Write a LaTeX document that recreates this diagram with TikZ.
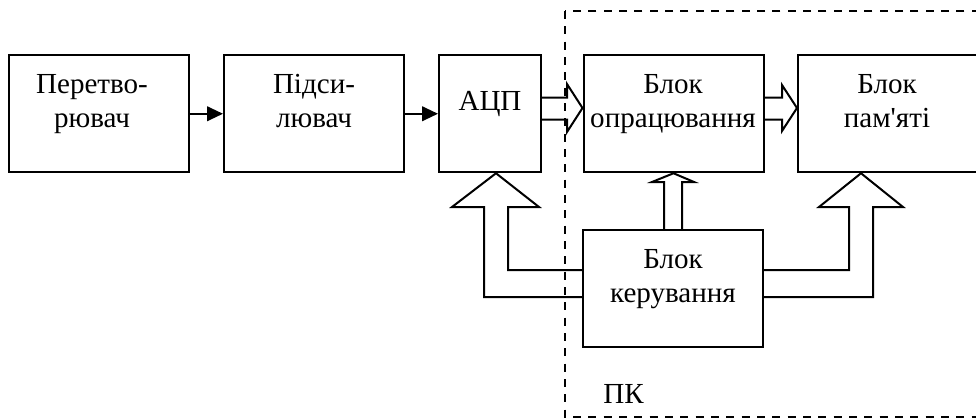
\documentclass[tikz,border=0pt]{standalone}
\usepackage{fontspec}
\setmainfont{Liberation Serif}[Ligatures=TeXOff]
\usetikzlibrary{arrows.meta}
\begin{document}
\begin{tikzpicture}[x=0.75pt,y=-0.75pt,
  blk/.style={draw, line width=1.5pt, minimum width=135pt, minimum height=87.75pt, inner sep=0pt},
  lbl/.style={align=center, font=\fontsize{21.8}{25.5}\selectfont, inner sep=0pt, anchor=base},
  hollow/.style={draw, line width=1.5pt, line join=miter},
  sarrow/.style={-{Triangle[length=12pt,width=11pt]}, line width=1.5pt},
  frame/.style={draw, dash pattern=on 6pt off 5.5pt, line width=1.1pt}]
\useasboundingbox (0,0) rectangle (976,419);
\clip (0,0) rectangle (976,419);
% dashed PC frame
\draw[frame] (565,11) rectangle (995,417);
% blocks
\node[blk] (conv) at (98.5,113.75) {};
\node[blk] (amp) at (314,113.75) {};
\node[blk, minimum width=76.5pt] (adc) at (490,113.75) {};
\node[blk] (proc) at (673.5,113.75) {};
\node[blk] (mem) at (888,113.75) {};
\node[blk] (ctrl) at (673,288.5) {};
% labels (base anchor = last line's baseline)
\node[lbl] (tconv) at (92,127) {Перетво-\\рювач};
\node[lbl] (tamp) at (314,127) {Підси-\\лювач};
\node[lbl] (tadc) at (490,110) {АЦП};
\node[lbl] (tproc) at (673,127) {Блок\\опрацювання};
\node[lbl] (tmem) at (887,127) {Блок\\пам'яті};
\node[lbl] (tctrl) at (673,302) {Блок\\керування};
\node[lbl, anchor=base west] (tpk) at (603,403) {ПК};
% simple arrows
\draw[sarrow] (conv.east) -- (amp.west);
\draw[sarrow] (amp.east) -- (adc.west);
% hollow arrows
\draw[hollow] (adc.east |- 0,97.5) -- (567,97.5) -- (567,84) -- (proc.west |- 0,108)
  -- (567,132) -- (567,119.5) -- (adc.east |- 0,119.5);
\draw[hollow] (proc.east |- 0,97.5) -- (782,97.5) -- (782,85) -- (mem.west |- 0,108)
  -- (782,131) -- (782,119.5) -- (proc.east |- 0,119.5);
\draw[hollow] (ctrl.north -| 664,0) -- (664,182) -- (652,182) -- (proc.south)
  -- (694,182) -- (682,182) -- (ctrl.north -| 682,0);
\draw[hollow] (ctrl.west |- 0,297) -- (484,297) -- (484,207) -- (452,207)
  -- (adc.south -| 496,0) -- (539,207) -- (508,207) -- (508,270) -- (ctrl.west |- 0,270);
\draw[hollow] (ctrl.east |- 0,270) -- (849,270) -- (849,207) -- (819,207)
  -- (mem.south -| 861,0) -- (903,207) -- (873,207) -- (873,297) -- (ctrl.east |- 0,297);
\end{tikzpicture}
\end{document}
